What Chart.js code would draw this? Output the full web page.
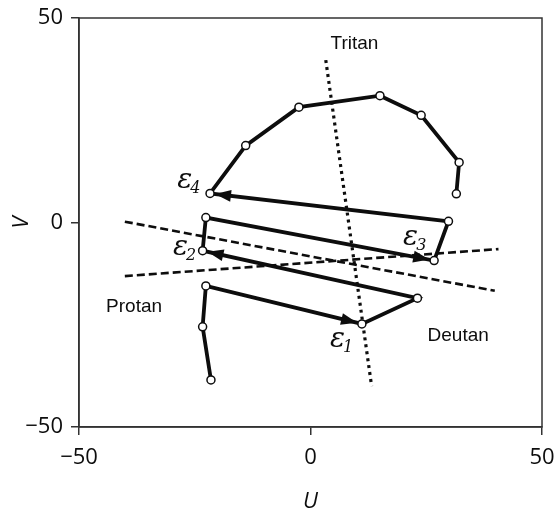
<!DOCTYPE html>
<html>
<head>
<meta charset="utf-8">
<script src="https://cdn.jsdelivr.net/npm/chart.js@4/dist/chart.umd.min.js"></script>
<style>
  html, body { margin: 0; padding: 0; background: #fff; }
  canvas { display: block; }
</style>
</head>
<body>
<canvas id="c" width="558" height="517"></canvas>
<script>
// Colour trajectory in the U–V plane, in the order the points were visited
const pathU = [-21.5, -23.3, -22.6, 11.1, 23.1, -23.3, -22.6, 26.7, 29.8, -21.7, -14.0, -2.5, 15.0, 23.9, 32.1, 31.5];
const pathV = [-38.5, -25.5, -15.5, -24.8, -18.5, -6.9, 1.2, -9.3, 0.3, 7.1, 18.8, 28.2, 31.0, 26.2, 14.7, 7.0];
// Segments drawn as arrows, given by the index of the point they point to
const arrowTo = [3, 5, 7, 9];

// Confusion axes
const protanU = [-40.1, 39.8], protanV = [0.2, -16.7];
const deutanU = [-40.1, 40.6], deutanV = [-13.1, -6.5];
const tritanU = [3.3, 13.2],   tritanV = [39.7, -40.0];

const axisTicks = [-50, 0, 50];

// Axis names and where they sit
const axisNames = ['Protan', 'Deutan', 'Tritan'];
const axisNameU = [-38.1, 31.9, 9.5];
const axisNameV = [-20.7, -27.8, 43.6];

// Epsilon markers (left/baseline anchor of the ε glyph)
const epsSub = ['1', '2', '3', '4'];
const epsU = [4.2, -29.7, 20.0, -28.8];
const epsV = [-30.4, -7.9, -5.5, 8.4];

const toXY = (us, vs) => us.map((u, i) => ({ x: u, y: vs[i] }));
const fmt = v => String(v).replace('-', '\u2212');
const INK = '#0d0d0d';

const arrowPlugin = {
  id: 'arrows',
  afterDatasetsDraw(chart) {
    const meta = chart.getDatasetMeta(0);
    const ctx = chart.ctx;
    ctx.save();
    ctx.fillStyle = INK;
    arrowTo.forEach(i => {
      const a = meta.data[i - 1], b = meta.data[i];
      const dx = b.x - a.x, dy = b.y - a.y;
      const len = Math.hypot(dx, dy);
      const ux = dx / len, uy = dy / len;
      const tipX = b.x - ux * 5, tipY = b.y - uy * 5;
      const L = 16, W = 6;
      const bx = tipX - ux * L, by = tipY - uy * L;
      ctx.beginPath();
      ctx.moveTo(tipX, tipY);
      ctx.lineTo(bx - uy * W, by + ux * W);
      ctx.lineTo(bx + uy * W, by - ux * W);
      ctx.closePath();
      ctx.fill();
    });
    ctx.restore();
  }
};

const labelPlugin = {
  id: 'labels',
  afterDatasetsDraw(chart) {
    const { ctx, scales: { x, y } } = chart;
    ctx.save();
    ctx.fillStyle = INK;
    ctx.font = '19px "Liberation Sans", Arial, sans-serif';
    ctx.textAlign = 'center';
    ctx.textBaseline = 'middle';
    axisNames.forEach((t, i) => {
      ctx.fillText(t, x.getPixelForValue(axisNameU[i]), y.getPixelForValue(axisNameV[i]));
    });
    ctx.textAlign = 'left';
    ctx.textBaseline = 'alphabetic';
    epsSub.forEach((s, i) => {
      const px = x.getPixelForValue(epsU[i]);
      const py = y.getPixelForValue(epsV[i]);
      ctx.font = 'italic 28px "DejaVu Serif", serif';
      ctx.fillText('\u03B5', px, py);
      const w = ctx.measureText('\u03B5').width;
      ctx.font = 'italic 16px "DejaVu Serif", serif';
      ctx.fillText(s, px + w - 2, py + 5);
    });
    ctx.restore();
  }
};

const framePlugin = {
  id: 'frame',
  afterDraw(chart) {
    const { ctx, chartArea: a } = chart;
    ctx.save();
    ctx.strokeStyle = '#333';
    ctx.lineWidth = 1.5;
    ctx.strokeRect(a.left, a.top, a.right - a.left, a.bottom - a.top);
    ctx.restore();
  }
};

const guide = (data, dash, width) => ({
  data, showLine: true, borderColor: INK, borderWidth: width, borderDash: dash,
  pointRadius: 0, pointHoverRadius: 0, fill: false, order: 1
});

new Chart(document.getElementById('c'), {
  type: 'scatter',
  data: {
    datasets: [
      {
        data: toXY(pathU, pathV),
        showLine: true,
        borderColor: INK,
        borderWidth: 3.8,
        pointRadius: 4,
        pointBackgroundColor: '#fff',
        pointBorderColor: INK,
        pointBorderWidth: 1.5,
        order: 0
      },
      guide(toXY(protanU, protanV), [8, 4], 2.6),
      guide(toXY(deutanU, deutanV), [8, 4], 2.6),
      guide(toXY(tritanU, tritanV), [3, 4], 3.2)
    ]
  },
  options: {
    responsive: false,
    animation: false,
    devicePixelRatio: 1,
    layout: { padding: { top: 18, right: 16, left: 0, bottom: 0 } },
    plugins: { legend: { display: false }, tooltip: { enabled: false } },
    scales: {
      x: {
        type: 'linear', min: -50, max: 50,
        afterBuildTicks: s => { s.ticks = axisTicks.map(v => ({ value: v })); },
        afterFit: s => { s.height = 90; s.paddingLeft = 0; s.paddingRight = 0; },
        grid: { display: true, drawOnChartArea: false, drawTicks: true, tickLength: 8, color: '#333', lineWidth: 1.5 },
        border: { display: true, color: '#333', width: 1.5 },
        ticks: { font: { family: 'Open Sans', size: 22 }, color: INK, padding: 10, maxRotation: 0, autoSkip: false, callback: v => fmt(v) },
        title: { display: true, text: 'U', font: { family: 'Open Sans', size: 22, style: 'italic' }, color: INK, padding: { top: 0, bottom: 2 } }
      },
      y: {
        type: 'linear', min: -50, max: 50,
        afterBuildTicks: s => { s.ticks = axisTicks.map(v => ({ value: v })); },
        afterFit: s => { s.width = 79; s.paddingTop = 0; s.paddingBottom = 0; },
        grid: { display: true, drawOnChartArea: false, drawTicks: true, tickLength: 8, color: '#333', lineWidth: 1.5 },
        border: { display: true, color: '#333', width: 1.5 },
        ticks: { font: { family: 'Open Sans', size: 22 }, color: INK, padding: 8, autoSkip: false, callback: v => fmt(v) },
        title: { display: true, text: 'V', font: { family: 'Open Sans', size: 22, style: 'italic' }, color: INK, padding: { top: 9, bottom: 0 } }
      }
    }
  },
  plugins: [arrowPlugin, labelPlugin, framePlugin]
});
</script>
</body>
</html>
